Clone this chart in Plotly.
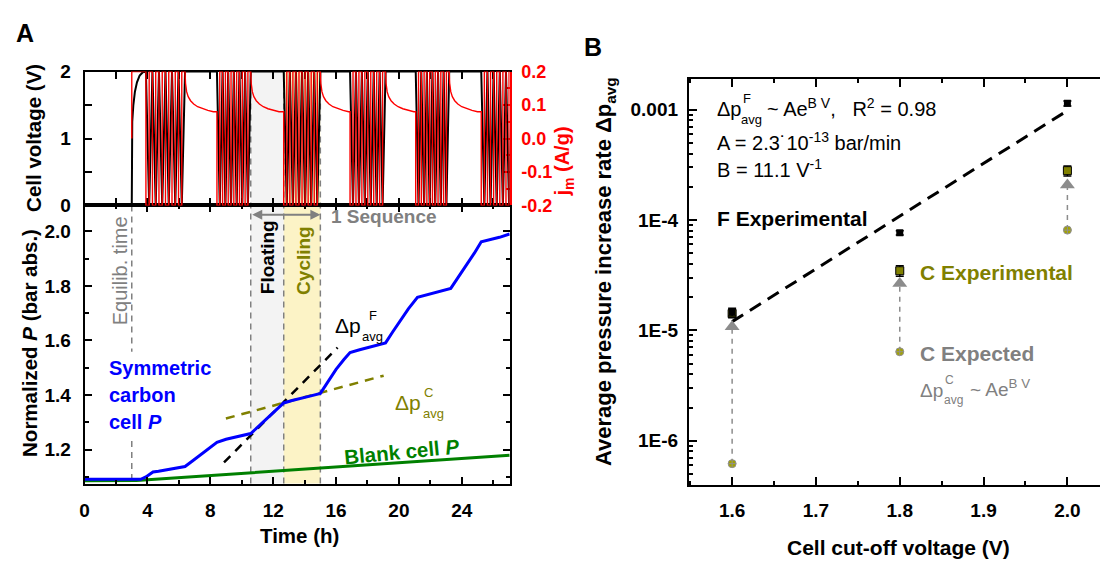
import numpy as np
import plotly.graph_objects as go

FONT = "Liberation Sans, Arial, sans-serif"
W, H = 1100, 561
RED, BLUE, GREEN, OLIVE, GRAY = "#ff0000", "#0000ff", "#008000", "#808000", "#808080"

# ---------------- data: panel A (schedule) ----------------
charge_t = [3.0, 3.0, 3.03, 3.1, 3.2, 3.33, 3.5, 3.7, 3.9]
charge_v = [0.0, 0.98, 1.25, 1.5, 1.7, 1.84, 1.94, 1.99, 2.0]
cycling_start = [3.9, 8.42, 12.67, 16.89, 21.07, 25.24]
cycling_end = [6.39, 10.57, 15.0, 19.15, 23.2, 27.6]
cycles_per_block = [6, 6, 6, 6, 6, 6]
float_dt = [0.0, 0.03, 0.1, 0.2, 0.35, 0.55, 0.8, 1.1, 1.45, 1.8, 2.2]
float_j = [0.2, 0.165, 0.14, 0.125, 0.113, 0.103, 0.095, 0.089, 0.084, 0.08, 0.076]
v_max, v_min = 2.0, 0.0
j_charge, j_discharge = 0.2, -0.2

# ---------------- data: panel A (pressure) ----------------
p_time = [0, 3.57, 3.9, 4.2, 4.35, 4.7, 5.5, 6.39, 6.9, 7.4, 7.9, 8.42, 9.0, 9.8, 10.57,
          11.1, 11.6, 12.1, 12.67, 13.2, 13.7, 14.4, 15.0, 15.5, 16.0, 16.5, 16.89, 17.5,
          18.0, 18.6, 19.15, 19.6, 20.05, 20.6, 21.18, 21.6, 22.1, 22.7, 23.3, 23.8, 24.3,
          24.8, 25.24, 25.6, 25.9, 26.4, 27.05]
p_sym = [1.091, 1.091, 1.100, 1.112, 1.118, 1.121, 1.130, 1.138, 1.160, 1.182, 1.205, 1.227,
         1.238, 1.249, 1.259, 1.287, 1.313, 1.342, 1.371, 1.380, 1.388, 1.397, 1.406, 1.448,
         1.494, 1.530, 1.556, 1.566, 1.574, 1.582, 1.591, 1.631, 1.671, 1.716, 1.758, 1.765,
         1.771, 1.781, 1.791, 1.834, 1.876, 1.920, 1.962, 1.967, 1.971, 1.978, 1.990]
blank_time = [0, 3.3, 27.05]
p_blank = [1.086, 1.087, 1.179]
fitF_time = [8.87, 16.1]
fitF_p = [1.153, 1.574]
fitC_time = [8.99, 19.03]
fitC_p = [1.314, 1.471]
floating_window = [10.57, 12.67]
cycling_window = [12.67, 15.0]
equilib_time = 3.0

# ---------------- data: panel B ----------------
volt = [1.6, 1.8, 2.0]
f_exp = [1.47e-5, 7.65e-5, 1.14e-3]
f_exp_err = [0.12e-5, 0.35e-5, 0.06e-3]
c_exp = [1.42e-5, 3.47e-5, 2.80e-4]
c_exp_err = [0.12e-5, 0.38e-5, 0.29e-4]
c_expected = [6.2e-7, 6.4e-6, 8.1e-5]
arrow_tip = [1.08e-5, 2.66e-5, 2.08e-4]
fit_volt = [1.6, 2.0]
fit_rate = [1.2e-5, 9.8e-4]

# ---------------- build schedule traces ----------------
vt, vv = list(charge_t), list(charge_v)
jt, jv = [3.0, 3.0, 3.9], [0.0, j_charge, j_charge]
for k, (s, e, n) in enumerate(zip(cycling_start, cycling_end, cycles_per_block)):
    edges = np.linspace(s, e, 2 * n + 1)
    for i in range(2 * n):
        c = j_discharge if i % 2 == 0 else j_charge
        jt += [edges[i], edges[i + 1]]
        jv += [c, c]
        vt.append(edges[i + 1])
        vv.append(v_min if i % 2 == 0 else v_max)
    if k + 1 < len(cycling_start):
        nxt = cycling_start[k + 1]
        last = j_charge
        for dt, j in zip(float_dt, float_j):
            if e + dt < nxt:
                jt.append(e + dt)
                jv.append(j)
                last = j
        jt.append(nxt)
        jv.append(last)
        vt.append(nxt)
        vv.append(v_max)

# ---------------- geometry (pixels) ----------------
AX0, AX1 = 80, 507
TOP0, TOP1 = 64, 203
BOT0, BOT1 = 203, 492
BX0, BY0, BY1 = 687, 72, 493


def pxx(x):
    return x / W


def pyy(y):
    return 1 - y / H


fig = go.Figure()

# top panel
fig.add_trace(go.Scatter(x=vt, y=vv, xaxis="x2", yaxis="y", mode="lines",
                         line=dict(color="black", width=2), hoverinfo="skip"))
fig.add_trace(go.Scatter(x=jt, y=jv, xaxis="x2", yaxis="y2", mode="lines",
                         line=dict(color=RED, width=1.4), hoverinfo="skip"))

# bottom panel
fig.add_trace(go.Scatter(x=fitF_time, y=fitF_p, xaxis="x", yaxis="y3", mode="lines",
                         line=dict(color="black", width=2.5, dash="9px,7px")))
fig.add_trace(go.Scatter(x=fitC_time, y=fitC_p, xaxis="x", yaxis="y3", mode="lines",
                         line=dict(color=OLIVE, width=2.5, dash="9px,7px")))
fig.add_trace(go.Scatter(x=blank_time, y=p_blank, xaxis="x", yaxis="y3", mode="lines",
                         line=dict(color=GREEN, width=3)))
fig.add_trace(go.Scatter(x=p_time, y=p_sym, xaxis="x", yaxis="y3", mode="lines",
                         line=dict(color=BLUE, width=3)))

# panel B
fig.add_trace(go.Scatter(x=fit_volt, y=fit_rate, xaxis="x3", yaxis="y4", mode="lines",
                         line=dict(color="black", width=3, dash="13px,8px")))
for v, lo, hi in zip(volt, c_expected, arrow_tip):
    fig.add_trace(go.Scatter(x=[v, v], y=[lo, hi], xaxis="x3", yaxis="y4", mode="lines",
                             line=dict(color="#8c8c8c", width=1.5, dash="5px,5px")))
fig.add_trace(go.Scatter(x=volt, y=arrow_tip, xaxis="x3", yaxis="y4", mode="markers",
                         marker=dict(symbol="triangle-up", size=13, color="#8c8c8c")))
fig.add_trace(go.Scatter(x=volt, y=c_expected, xaxis="x3", yaxis="y4", mode="markers",
                         marker=dict(symbol="circle-cross", size=8, color="#a3a300",
                                     line=dict(color="#909090", width=1))))
fig.add_trace(go.Scatter(x=volt, y=c_exp, xaxis="x3", yaxis="y4", mode="markers",
                         marker=dict(symbol="square", size=8, color=OLIVE,
                                     line=dict(color="black", width=1)),
                         error_y=dict(type="data", array=c_exp_err, color="black",
                                      thickness=1.5, width=4)))
fig.add_trace(go.Scatter(x=volt, y=f_exp, xaxis="x3", yaxis="y4", mode="markers",
                         marker=dict(symbol="square", size=7, color="black"),
                         error_y=dict(type="data", array=f_exp_err, color="black",
                                      thickness=1.5, width=4)))

tf = dict(family=FONT, size=19, color="black", weight="bold")
common = dict(showline=True, linecolor="black", linewidth=2, ticks="inside",
              tickcolor="black", tickwidth=1.5, showgrid=False, zeroline=False)

fig.update_layout(
    width=W, height=H, margin=dict(l=0, r=0, t=0, b=0),
    paper_bgcolor="white", plot_bgcolor="rgba(0,0,0,0)", showlegend=False,
    font=dict(family=FONT, color="black"),
    xaxis=dict(domain=[pxx(AX0), pxx(AX1)], range=[0, 27.05], anchor="y3",
               tick0=0, dtick=4, ticklen=7, mirror="ticks", tickfont=tf,
               ticklabelstandoff=9,
               minor=dict(dtick=2, ticks="inside", ticklen=4, tickcolor="black"), **common),
    xaxis2=dict(domain=[pxx(AX0), pxx(AX1)], range=[0, 27.05], anchor="y", matches="x",
                showticklabels=False, tick0=0, dtick=2, ticklen=7, mirror="ticks",
                layer="below traces", **common),
    yaxis=dict(domain=[pyy(TOP1), pyy(TOP0)], range=[0, 2], anchor="x2", dtick=1,
               ticklen=7, tickfont=tf, ticklabelstandoff=8, layer="below traces",
               minor=dict(dtick=0.5, ticks="inside", ticklen=7, tickcolor="black"), **common),
    yaxis2=dict(overlaying="y", side="right", anchor="x2", range=[-0.2, 0.2],
                tickvals=[-0.2, -0.1, 0.0, 0.1, 0.2],
                ticktext=["-0.2", "-0.1", "0.0", "0.1", "0.2"],
                showline=True, linecolor=RED, linewidth=2, ticks="inside", tickcolor=RED,
                tickwidth=1.5, ticklen=7, showgrid=False, zeroline=False,
                tickfont=dict(family=FONT, size=18, color=RED, weight="bold"),
                ticklabelstandoff=6, layer="below traces",
                minor=dict(dtick=0.05, ticks="inside", ticklen=4, tickcolor=RED)),
    yaxis3=dict(domain=[pyy(BOT1), pyy(BOT0)], range=[1.0755, 2.095], anchor="x",
                tick0=1.2, dtick=0.2, tickformat=".1f", ticklen=7, mirror="ticks",
                tickfont=tf, ticklabelstandoff=8,
                minor=dict(dtick=0.1, ticks="inside", ticklen=4, tickcolor="black"), **common),
    xaxis3=dict(domain=[pxx(BX0), 1.0], range=[1.5484, 2.0389], anchor="y4",
                tick0=1.6, dtick=0.1, tickformat=".1f", ticklen=8, mirror="ticks",
                tickfont=tf, ticklabelstandoff=8,
                minor=dict(dtick=0.05, ticks="inside", ticklen=4, tickcolor="black"), **common),
    yaxis4=dict(domain=[pyy(BY1), pyy(BY0)], type="log", range=[-6.397, -2.725],
                anchor="x3", tickvals=[1e-6, 1e-5, 1e-4, 1e-3],
                ticktext=["1E-6", "1E-5", "1E-4", "0.001"], ticklen=8,
                tickfont=tf, ticklabelstandoff=5,
                minor=dict(tickmode="array",
                           tickvals=[m * 10.0 ** d for d in (-7, -6, -5, -4, -3)
                                     for m in range(2, 10)],
                           ticks="inside", ticklen=4, tickcolor="black"), **common),
)

# ---------------- shapes ----------------
shapes = []
yb, yt = pyy(BOT1), pyy(TOP0)
shapes.append(dict(type="rect", xref="x", yref="paper", x0=floating_window[0],
                   x1=floating_window[1], y0=yb, y1=yt, fillcolor="#f3f3f3",
                   line=dict(width=0), layer="below"))
shapes.append(dict(type="rect", xref="x", yref="paper", x0=cycling_window[0],
                   x1=cycling_window[1], y0=yb, y1=yt, fillcolor="#fcf3c6",
                   line=dict(width=0), layer="below"))
for xv in (floating_window[0], floating_window[1], cycling_window[1]):
    shapes.append(dict(type="line", xref="x", yref="paper", x0=xv, x1=xv, y0=yb, y1=yt,
                       line=dict(color=GRAY, width=1.5, dash="6px,5px"), layer="below"))
for y0, y1 in ((2.095, 1.559), (1.232, 1.0755)):
    shapes.append(dict(type="line", xref="x", yref="y3", x0=equilib_time, x1=equilib_time,
                       y0=y0, y1=y1, line=dict(color=GRAY, width=1.5, dash="6px,5px"),
                       layer="below"))
fig.update_layout(shapes=shapes)

# ---------------- annotations ----------------
anns = []


def T(text, x, y, size, color="black", bold=False, angle=0, xanchor="center",
      yanchor="middle"):
    if bold:
        text = "<b>" + text + "</b>"
    anns.append(dict(text=text, x=x / W, y=1 - y / H, xref="paper", yref="paper",
                     showarrow=False, textangle=angle, xanchor=xanchor, yanchor=yanchor,
                     font=dict(family=FONT, size=size, color=color)))


# panel letters
T("A", 20, 24, 25, bold=True)
T("B", 591, 38, 25, bold=True)

# panel A axis titles
T("Cell voltage (V)", 28, 133, 20.5, bold=True, angle=-90)
T("j<sub>m</sub> (A/g)", 561, 157, 20, color=RED, bold=True, angle=-90)
T("Normalized <i>P</i> (bar abs.)", 24, 346, 20.5, bold=True, angle=-90)
T("Time (h)", 296, 546, 20.5, bold=True)

# panel A labels
T("Equilib. time", 115, 271, 20, color=GRAY, angle=-90)
T("Floating", 264, 257, 19, bold=True, angle=-90)
T("Cycling", 300, 260, 19, color=OLIVE, bold=True, angle=-90)
T("1 Sequence", 325, 215, 19, color=GRAY, bold=True, xanchor="left")
T("Symmetric", 102, 372, 20, color=BLUE, bold=True, xanchor="left")
T("carbon", 102, 400, 20, color=BLUE, bold=True, xanchor="left")
T("cell <i>P</i>", 102, 428, 20, color=BLUE, bold=True, xanchor="left")
T("Blank cell <i>P</i>", 398, 459, 20.5, color=GREEN, bold=True, angle=-5.5)
T("Δp", 329, 328, 21, xanchor="left")
T("F", 364, 317, 13, xanchor="left")
T("avg", 357, 339, 13, xanchor="left")
T("Δp", 390, 408, 21, color=OLIVE, xanchor="left")
T("C", 419, 397, 13, color=OLIVE, xanchor="left")
T("avg", 418, 419, 13, color=OLIVE, xanchor="left")

# 1 Sequence arrow
anns.append(dict(x=cycling_window[1], y=2.061, xref="x", yref="y3",
                 ax=floating_window[0], ay=2.061, axref="x", ayref="y3", text="",
                 showarrow=True, arrowhead=2, arrowside="end+start", arrowsize=1,
                 arrowwidth=2, arrowcolor=GRAY, standoff=0, startstandoff=0))

# panel B axis titles
T("Average pressure increase rate Δp<sub>avg</sub>", 603, 272, 22, bold=True, angle=-90)
T("Cell cut-off voltage (V)", 898, 558, 21, bold=True)

# panel B labels
T("Δp", 713, 103, 20, xanchor="left")
T("F", 739, 92, 13, xanchor="left")
T("avg", 737, 114, 13, xanchor="left")
T("~ Ae<sup>B V</sup>,   R<sup>2</sup> = 0.98", 763, 101, 20, xanchor="left")
T("A = 2.3˙10<sup>-13</sup> bar/min", 713, 137, 20, xanchor="left")
T("B = 11.1 V<sup>-1</sup>", 713, 165, 20, xanchor="left")
T("F Experimental", 713, 217, 21, bold=True, xanchor="left")
T("C Experimental", 917, 273, 21, color=OLIVE, bold=True, xanchor="left")
T("C Expected", 917, 357, 21, color=GRAY, bold=True, xanchor="left")
T("Δp", 917, 395, 19, color=GRAY, xanchor="left")
T("C", 942, 384, 12, color=GRAY, xanchor="left")
T("avg", 941, 405, 12, color=GRAY, xanchor="left")
T("~ Ae<sup>B V</sup>", 967, 393, 19, color=GRAY, xanchor="left")

fig.update_layout(annotations=anns)
fig.write_html("out.html")
